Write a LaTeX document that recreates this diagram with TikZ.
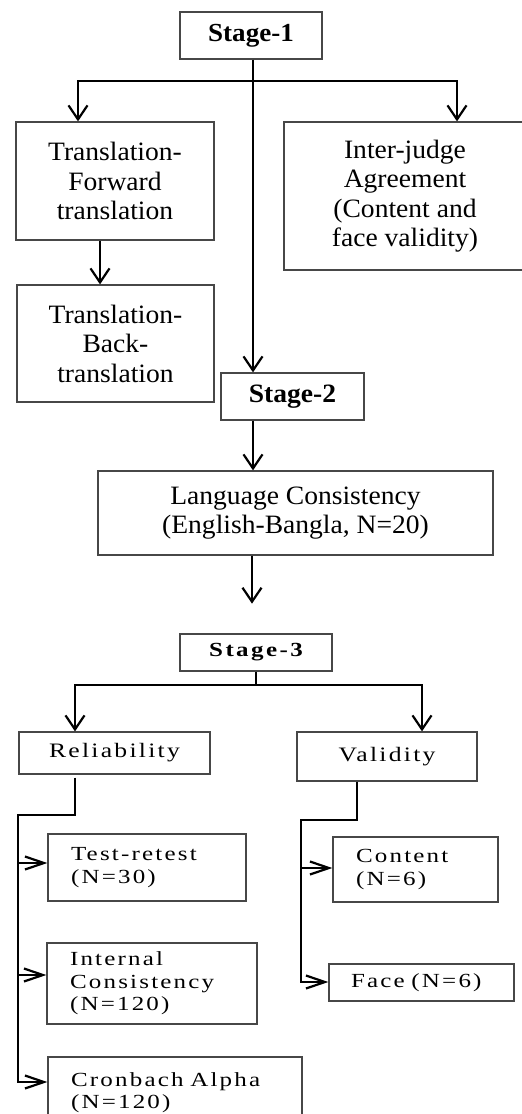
\documentclass[tikz,border=0pt]{standalone}
\usepackage{fontspec}
\setmainfont{Liberation Serif}
\newfontfamily\upf[FakeStretch=1.04]{Liberation Serif}
\newfontfamily\lowf[FakeStretch=1.25,LetterSpace=11]{Liberation Serif}
\newfontfamily\stf[FakeStretch=1.25,LetterSpace=12]{Liberation Serif}
\usetikzlibrary{arrows.meta}
\begin{document}
\begin{tikzpicture}[x=1pt,y=-1pt,
  box/.style={draw=black!72, line width=1.3pt, inner sep=0pt, align=center},
  upbox/.style={box, font=\upf\fontsize{26.5}{29.5}\selectfont},
  lowbox/.style={box, font=\lowf\fontsize{20.5}{22.5}\selectfont},
  leftbox/.style={draw=black!72, line width=1.3pt, inner ysep=0pt, align=left,
     font=\lowf\fontsize{20}{22.5}\selectfont},
  conn/.style={line width=2.2pt, black},
  arrB/.style={conn, -{Straight Barb[length=14pt,width=19pt]}},
  arrS/.style={conn, -{Straight Barb[length=19pt,width=13pt]}}]
\useasboundingbox (0,0) rectangle (522,1114);
\clip (0,0) rectangle (522,1114);
\fill[white] (0,0) rectangle (522,1114);
% stage 1
\node[box, font=\upf\bfseries\fontsize{26}{28}\selectfont, minimum width=142pt, minimum height=47pt] (s1) at (251,35.5) {Stage-1};
\node[upbox, minimum width=198pt, minimum height=118pt] (tf) at (115,181) {Translation-\\Forward\\translation};
\node[upbox, minimum width=197pt, minimum height=117pt] (tb) at (115.5,343.5) {Translation-\\Back-\\translation};
\node[upbox, minimum width=242pt, minimum height=148pt] (ij) at (405,196) {Inter-judge\\Agreement\\(Content and\\face validity)};
% stage 2
\node[box, font=\upf\bfseries\fontsize{26.5}{29}\selectfont, minimum width=143pt, minimum height=47pt] (s2) at (292.5,396.5) {Stage-2};
\node[upbox, minimum width=395pt, minimum height=84pt] (lang) at (295.5,513) {Language Consistency\\(English-Bangla, N=20)};
% stage 3
\node[box, font=\stf\bfseries\fontsize{20}{23}\selectfont, minimum width=152pt, minimum height=37pt] (s3) at (256,652.5) {Stage-3};
\node[lowbox, minimum width=191pt, minimum height=42pt] (rel) at (114.5,753) {Reliability};
\node[lowbox, minimum width=180pt, minimum height=49pt] (val) at (387,756.5) {Validity};
\node[leftbox, inner xsep=23pt, text width=152pt, minimum height=67pt] (tr) at (147,867.5) {Test-retest\\(N=30)};
\node[leftbox, inner xsep=23pt, text width=164pt, minimum height=81pt] (ic) at (152,983.5) {Internal\\Consistency\\(N=120)};
\node[leftbox, inner xsep=23pt, text width=208pt, minimum height=71pt] (cb) at (175,1092.5) {Cronbach Alpha\\(N=120)};
\node[leftbox, inner xsep=23pt, text width=119pt, minimum height=65pt] (ct) at (415.5,869.5) {Content\\(N=6)};
\node[leftbox, inner xsep=22pt, text width=141pt, minimum height=37pt] (fc) at (421.5,982.5) {\mbox{Face (N=6)}};
% connectors stage 1
\coordinate (j1) at ([xshift=2pt,yshift=-21pt]s1.south);
\draw[arrB] ([xshift=2pt]s1.south) -- ([xshift=2pt]s1.south |- s2.north);
\draw[arrB] (j1) -| ([xshift=-37pt]tf.north);
\draw[arrB] (j1) -| ([xshift=52pt]ij.north);
\draw[arrB] ([xshift=-15pt]tf.south) -- ([xshift=-15pt]tf.south |- tb.north);
% stage 2
\draw[arrB] ([xshift=-39.5pt]s2.south) -- ([xshift=-39.5pt]s2.south |- lang.north);
\draw[arrB] ([xshift=-43.5pt]lang.south) -- ++(0,48);
% stage 3
\coordinate (j3) at ([yshift=-13pt]s3.south);
\draw[conn] (s3.south) -- (j3);
\draw[arrB] (j3) -| ([xshift=-39.5pt]rel.north);
\draw[arrB] (j3) -| ([xshift=35pt]val.north);
% reliability branch
\coordinate (rj) at (18,815);
\draw[arrS] ([xshift=-39.5pt,yshift=-3pt]rel.south) |- (rj) |- ([yshift=10.5pt]cb.west);
\draw[arrS] ([yshift=4.5pt]tr.west -| rj) -- ([yshift=4.5pt]tr.west);
\draw[arrS] ([yshift=8.5pt]ic.west -| rj) -- ([yshift=8.5pt]ic.west);
% validity branch
\coordinate (vj) at (301,820);
\draw[arrS] ([xshift=-30pt]val.south) |- (vj) |- ([yshift=0.5pt]fc.west);
\draw[arrS] ([yshift=1.5pt]ct.west -| vj) -- ([yshift=1.5pt]ct.west);
\end{tikzpicture}
\end{document}
